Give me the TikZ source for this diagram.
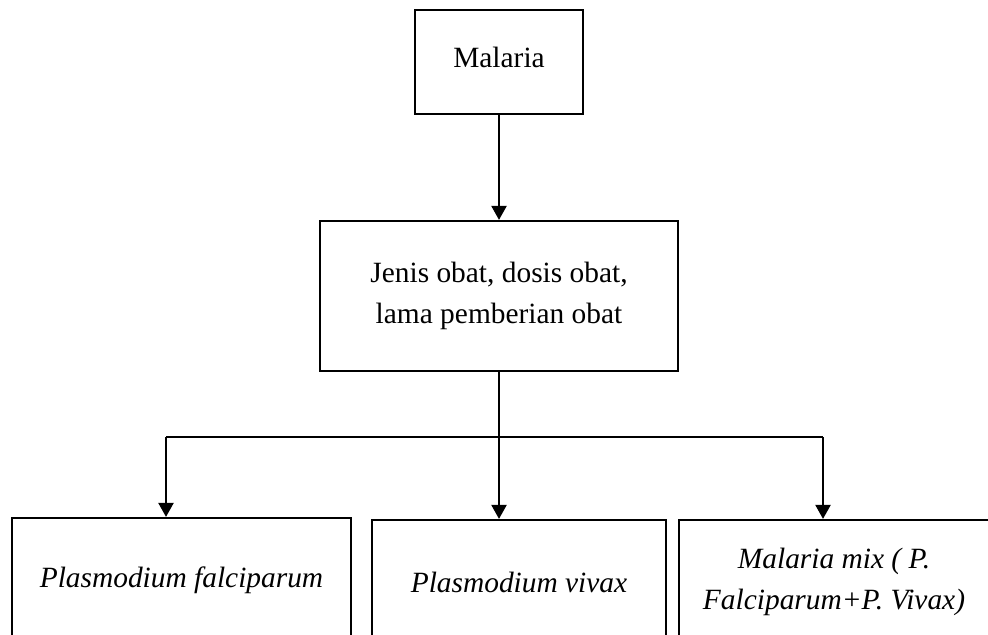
\documentclass[tikz,border=0pt]{standalone}
\usepackage{fontspec}
\setmainfont{Liberation Serif}
\usetikzlibrary{arrows.meta}
\begin{document}
\begin{tikzpicture}[x=0.5pt, y=-0.5pt, line width=1.1pt,
    kotak/.style={draw, align=center, inner sep=0pt, font=\fontsize{14.7}{20.5}\selectfont},
    panah/.style={-{Triangle[width=7.5pt,length=7pt]}}]
    % Batas gambar
    \clip (0,0) rectangle (988,634);

    % Kotak atas dan tengah
    \node[kotak, minimum width=84pt, minimum height=52pt, text depth=5pt] (malaria) at (499,62) {Malaria};
    \node[kotak, minimum width=179pt, minimum height=75pt] (obat) at (499,296) {Jenis obat, dosis obat,\\lama pemberian obat};

    % Kotak bawah (terpotong di tepi gambar)
    \node[kotak, minimum width=169.5pt, minimum height=62pt] (falci) at (181.5,580) {\itshape Plasmodium falciparum};
    \node[kotak, minimum width=147pt, minimum height=62pt] (vivax) at (519,582) {\itshape Plasmodium vivax};
    \node[kotak, minimum width=155pt, minimum height=62pt] (mix) at (834,582) {\itshape Malaria mix ( P.\\\itshape Falciparum+P. Vivax)};

    % Titik percabangan
    \coordinate (kiri) at (166,437);
    \coordinate (kanan) at (823,437);

    % Panah
    \draw[panah] (malaria) -- (obat);
    \draw[panah] (obat.south) -- (obat.south |- vivax.north);
    \draw (kiri) -- (kanan);
    \draw[panah] (kiri) -- (kiri |- falci.north);
    \draw[panah] (kanan) -- (kanan |- mix.north);
\end{tikzpicture}
\end{document}
